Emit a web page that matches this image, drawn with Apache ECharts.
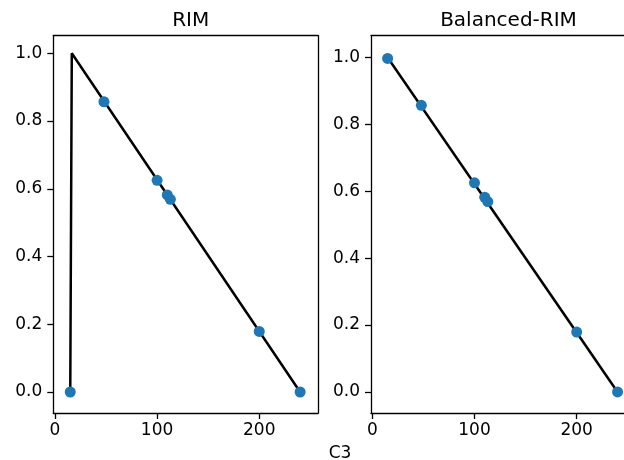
<!DOCTYPE html>
<html>
<head>
<meta charset="utf-8">
<script src="https://cdn.jsdelivr.net/npm/echarts@6/dist/echarts.min.js"></script>
<style>html,body{margin:0;padding:0;background:#fff}#c{width:624px;height:460px}</style>
</head>
<body>
<div id="c"></div>
<script>
const titles = ['RIM', 'Balanced-RIM'];
const xLabel = 'C3';
const pointsX = [15, 48, 100, 110, 113, 200, 240];
const rimPointsY = [0.0, 0.857, 0.625, 0.582, 0.569, 0.179, 0.0];
const balPointsY = [0.997, 0.857, 0.625, 0.582, 0.569, 0.179, 0.0];
const rimLineX = [15, 16.5, 240];
const rimLineY = [0.0, 1.0, 0.0];
const balLineX = [15, 240];
const balLineY = [1.0, 0.0];
const xTicks = [0, 100, 200];
const yTicks = [0.0, 0.2, 0.4, 0.6, 0.8, 1.0];

const zip = (a, b) => a.map((v, i) => [v, b[i]]);
const font = 'DejaVu Sans';
const frame = {color: '#000', width: 1.3};
const chart = echarts.init(document.getElementById('c'), null, {renderer: 'canvas'});

function xAxis(idx, min, max) {
  return {
    type: 'value', gridIndex: idx, min: min, max: max, position: 'bottom',
    axisLine: {show: true, onZero: false, lineStyle: frame},
    axisTick: {show: true, length: 6, inside: false, customValues: xTicks, lineStyle: frame},
    axisLabel: {customValues: xTicks, color: '#000', fontFamily: font, fontSize: 17, margin: 9},
    splitLine: {show: false}
  };
}
function yAxis(idx, min, max) {
  return {
    type: 'value', gridIndex: idx, min: min, max: max, position: 'left',
    axisLine: {show: true, onZero: false, lineStyle: frame},
    axisTick: {show: true, length: 6, inside: false, customValues: yTicks, lineStyle: frame},
    axisLabel: {customValues: yTicks, color: '#000', fontFamily: font, fontSize: 17, margin: 11,
      formatter: v => Number(v).toFixed(1)},
    splitLine: {show: false}
  };
}
function border(idx, pos) {
  return {
    type: 'value', gridIndex: idx, position: pos, min: 0, max: 1,
    axisLine: {show: true, onZero: false, lineStyle: frame},
    axisTick: {show: false}, axisLabel: {show: false}, splitLine: {show: false}
  };
}

chart.setOption({
  animation: false,
  title: [
    {text: titles[0], left: 185.7, top: 6, textAlign: 'center', textStyle: {fontFamily: font, fontSize: 20, fontWeight: 'normal', color: '#000'}},
    {text: titles[1], left: 503.5, top: 6, textAlign: 'center', textStyle: {fontFamily: font, fontSize: 20, fontWeight: 'normal', color: '#000'}},
    {text: xLabel, left: 335, top: 440, textAlign: 'center', textStyle: {fontFamily: font, fontSize: 17, fontWeight: 'normal', color: '#000'}}
  ],
  grid: [
    {left: 53.3, top: 35.7, width: 264.7, height: 377.3, show: false},
    {left: 371, top: 35.7, width: 253, height: 377.3, show: false}
  ],
  xAxis: [xAxis(0, -1.6, 257.5), xAxis(1, -1.27, 246.3), border(0, 'top'), border(1, 'top')],
  yAxis: [yAxis(0, -0.062, 1.052), yAxis(1, -0.063, 1.065), border(0, 'right')],
  series: [
    {type: 'line', xAxisIndex: 0, yAxisIndex: 0, data: zip(rimLineX, rimLineY), showSymbol: false, symbol: 'none',
      lineStyle: {color: '#000', width: 2.5}, z: 2},
    {type: 'scatter', xAxisIndex: 0, yAxisIndex: 0, data: zip(pointsX, rimPointsY), symbolSize: 11,
      itemStyle: {color: '#1f77b4', opacity: 1}, z: 3},
    {type: 'line', xAxisIndex: 1, yAxisIndex: 1, data: zip(balLineX, balLineY), showSymbol: false, symbol: 'none',
      lineStyle: {color: '#000', width: 2.5}, z: 2},
    {type: 'scatter', xAxisIndex: 1, yAxisIndex: 1, data: zip(pointsX, balPointsY), symbolSize: 11,
      itemStyle: {color: '#1f77b4', opacity: 1}, z: 3}
  ]
});
</script>
</body>
</html>
